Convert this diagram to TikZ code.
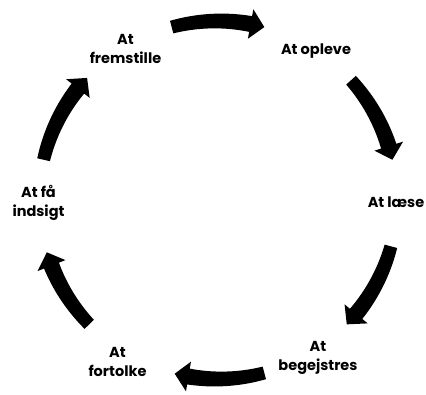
\documentclass[tikz,border=0pt]{standalone}
\usepackage{fontspec}
\setmainfont{Poppins}
\usetikzlibrary{positioning}

% curved arrow: tail angle, tip angle (clockwise round (c))
\newcommand{\cycarrow}[2]{%
  \pgfmathsetmacro{\hb}{#2+4.5}
  \fill[shift={(c)}]
    plot[domain=#1:\hb, samples=25] (\x:{179+6.5+1.5*(\x-(#1))/(\hb-(#1))})
    -- (\hb:194) -- (#2:179) -- (\hb:164)
    -- plot[domain=\hb:#1, samples=25] (\x:{179-6.5-1.5*(\x-(#1))/(\hb-(#1))})
    -- cycle;
}

\begin{document}
\begin{tikzpicture}[x=1pt, y=1pt, main/.style = {font=\bfseries\fontsize{14.5}{19.5}\selectfont, align=center, inner sep=0pt}]
        \useasboundingbox (0,0) rectangle (426,394);
        \coordinate (c) at (218,194);
        \node[main] (1) at (316,343) {At opleve};
        \node[main] (2) at (396,192) {At læse};
        \node[main] (3) at (318,36)  {At\\begejstres};
        \node[main] (4) at (117.5,32) {At\\fortolke};
        \node[main] (5) at (38.5,191) {At få\\indsigt};
        \node[main] (6) at (125.5,345) {At\\fremstille};
        \cycarrow{105}{75}
        \cycarrow{42}{13}
        \cycarrow{-15}{-44}
        \cycarrow{-75}{-104}
        \cycarrow{-136}{-163}
        \cycarrow{167}{137}
    \end{tikzpicture}
\end{document}
